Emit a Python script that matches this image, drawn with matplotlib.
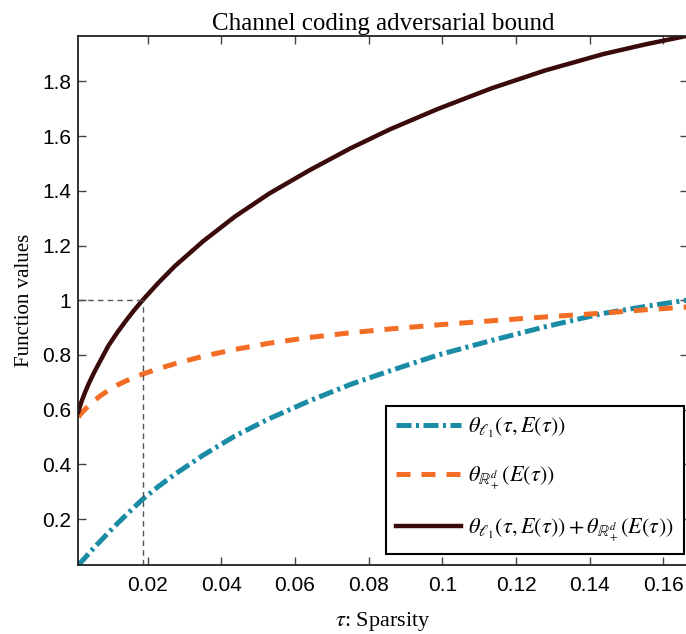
import numpy as np
import matplotlib.pyplot as plt
from matplotlib.ticker import FuncFormatter

# values
tau = [0.00116, 0.002, 0.0029, 0.004, 0.0055, 0.0072, 0.0094, 0.0118, 0.0141,
       0.0163, 0.0186, 0.023, 0.0274, 0.035, 0.0436, 0.053, 0.0639, 0.075,
       0.0858, 0.0989, 0.1134, 0.1279, 0.1437, 0.155, 0.1662]
theta_l1 = [0.032, 0.044, 0.057, 0.074, 0.096, 0.12, 0.151, 0.184, 0.214,
            0.243, 0.272, 0.32, 0.364, 0.433, 0.503, 0.567, 0.632, 0.692,
            0.742, 0.8, 0.853, 0.903, 0.952, 0.977, 1.0]
theta_rd = [0.573, 0.587, 0.600, 0.615, 0.633, 0.651, 0.671, 0.69, 0.705,
            0.718, 0.73, 0.75, 0.768, 0.795, 0.82, 0.843, 0.864, 0.881,
            0.895, 0.91, 0.925, 0.939, 0.953, 0.965, 0.975]
theta_sum = [0.592, 0.628, 0.66, 0.695, 0.737, 0.78, 0.835, 0.883, 0.925,
             0.963, 1.0, 1.065, 1.125, 1.215, 1.305, 1.39, 1.475, 1.555,
             1.625, 1.70, 1.775, 1.84, 1.90, 1.935, 1.966]
tau_star = 0.0186
xticks = [0.02, 0.04, 0.06, 0.08, 0.1, 0.12, 0.14, 0.16]
yticks = [0.2, 0.4, 0.6, 0.8, 1.0, 1.2, 1.4, 1.6, 1.8]

plt.rcParams['mathtext.fontset'] = 'stix'

fig = plt.figure(figsize=(6.86, 6.34), dpi=100)
ax = fig.add_axes([0.1141, 0.1088, 0.8888, 0.8344])

ax.plot(tau, theta_l1, color='#1a8ca5', lw=3.6, linestyle=(0, (3, 0.9, 0.6, 0.9)),
        label=r'$\theta_{\ell_1}\left(\tau,E(\tau)\right)$')
ax.plot(tau, theta_rd, color='#f46d25', lw=3.6, linestyle=(0, (2.8, 2.2)),
        label=r'$\theta_{\mathbb{R}_+^d}\left(E(\tau)\right)$')
ax.plot(tau, theta_sum, color='#3b0a0a', lw=3.2,
        label=r'$\theta_{\ell_1}\left(\tau,E(\tau)\right)+\theta_{\mathbb{R}_+^d}\left(E(\tau)\right)$')

# reference lines at sum == 1
ax.plot([tau[0], tau_star], [1, 1], color='#555555', lw=1, linestyle=(0, (4, 3)))
ax.plot([tau_star, tau_star], [theta_l1[0], 1], color='#555555', lw=1, linestyle=(0, (4, 3)))

ax.set_xlim(tau[0], 0.1667)
ax.set_ylim(theta_l1[0], theta_sum[-1])
ax.set_xticks(xticks)
ax.set_yticks(yticks)
fmt = FuncFormatter(lambda v, p: '%g' % v)
ax.xaxis.set_major_formatter(fmt)
ax.yaxis.set_major_formatter(fmt)
ax.tick_params(direction='in', length=6, width=1, colors='#444444',
               top=True, right=True, labelsize=15)
ax.tick_params(axis='y', pad=5)
ax.tick_params(axis='x', pad=8)
for lab in ax.get_xticklabels() + ax.get_yticklabels():
    lab.set_family('Liberation Sans')
    lab.set_color('black')
for sp in ax.spines.values():
    sp.set_linewidth(1.3)
    sp.set_color('#222222')

ax.set_title('Channel coding adversarial bound', family='Liberation Serif',
             fontsize=18, pad=4)
ax.set_xlabel(r'$\tau$: Sparsity', family='Liberation Serif', fontsize=16, labelpad=11)
ax.set_ylabel('Function values', family='Liberation Serif', fontsize=15, labelpad=6)

leg = ax.legend(loc='lower right', bbox_to_anchor=(0.9934, 0.0208), fontsize=16,
                handlelength=2.9, handletextpad=0.35, labelspacing=1.1,
                borderpad=0.45, borderaxespad=0,
                fancybox=False, framealpha=1, edgecolor='black')
leg.get_frame().set_linewidth(1.5)

fig.savefig('out.png', dpi=100)
